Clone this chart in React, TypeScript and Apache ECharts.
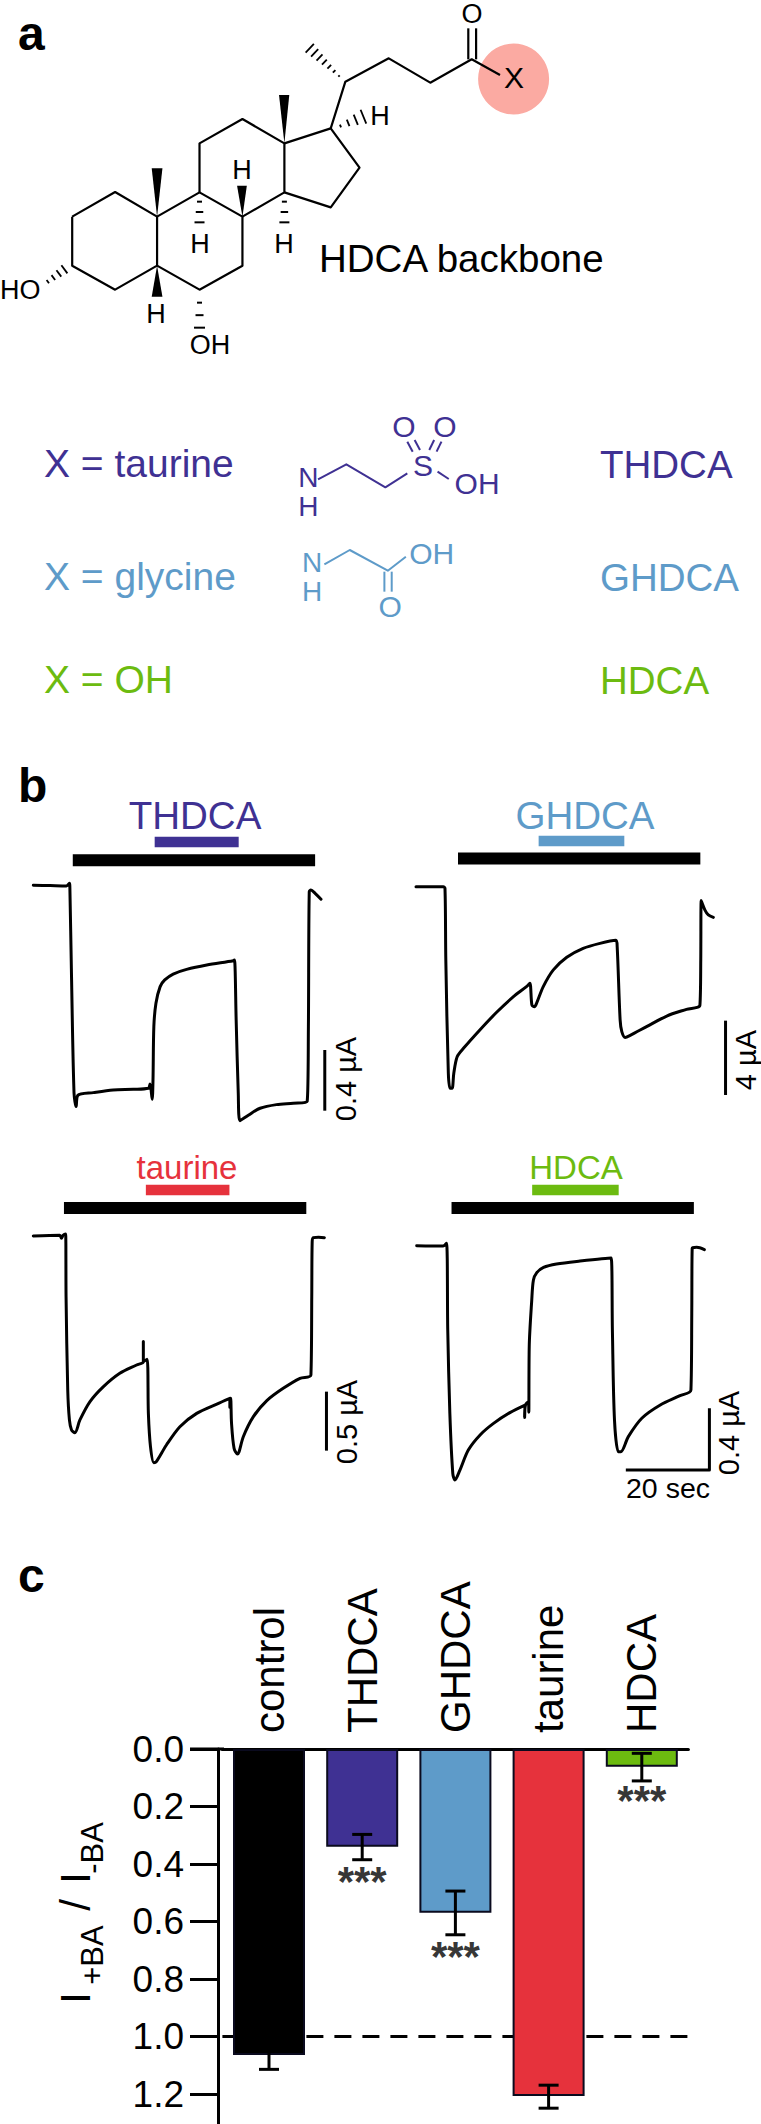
import React, { useEffect, useRef } from "react";
import * as echarts from "echarts";

// ---------- data ----------
const thdcaTrace = [[0,0],[4,-0.002],[7.9,-0.004],[8.6,0.013],[8.7,-0.004],[9.1,-0.602],[9.7,-1.371],[10.2,-1.459],[10.6,-1.385],[14.3,-1.367],[19,-1.349],[23.8,-1.345],[27.4,-1.338],[27.8,-1.31],[28.3,-1.411],[28.5,-1.284],[28.7,-0.932],[29.2,-0.778],[30.2,-0.668],[31.3,-0.624],[33.3,-0.585],[36.5,-0.554],[41.3,-0.525],[47.6,-0.497],[47.9,-0.492],[48.3,-0.888],[48.8,-1.371],[49.2,-1.552],[51.2,-1.516],[54,-1.47],[57.9,-1.446],[61.9,-1.437],[65.2,-1.426],[65.5,-0.932],[65.7,-0.042],[66.1,-0.031],[67.1,-0.053],[68.5,-0.092]];
const ghdcaTrace = [[0,0],[6.5,0],[6.9,-0.09],[7.1,-3.95],[7.7,-10.04],[8.1,-10.85],[8.6,-10.85],[9,-10.04],[9.8,-9.15],[11.3,-8.7],[15.2,-7.71],[19.2,-6.76],[23.2,-5.92],[26.3,-5.38],[27.1,-5.2],[27.6,-6.37],[28.2,-6.46],[28.7,-6.28],[30.3,-5.38],[32.7,-4.48],[35.9,-3.8],[39.8,-3.32],[43.8,-3.05],[47.6,-2.89],[47.9,-3.23],[48.6,-7.17],[49,-7.8],[49.8,-8.11],[51,-8],[54.9,-7.53],[59.7,-6.96],[64.4,-6.6],[67.6,-6.37],[67.8,-3.95],[67.9,-0.75],[68.8,-1.26],[69.6,-1.52],[70.8,-1.65]];
const taurineTrace = [[0,0],[6.3,0.006],[6.7,-0.02],[7.1,0.006],[7.7,0.017],[7.8,-0.514],[8.2,-1.305],[8.6,-1.559],[9.1,-1.644],[9.9,-1.667],[11.1,-1.559],[13.5,-1.404],[16.7,-1.277],[20.6,-1.164],[24.6,-1.093],[26.2,-1.065],[26.2,-0.895],[26.2,-1.065],[27.1,-1.045],[27.4,-1.503],[27.9,-1.785],[28.7,-1.921],[29.3,-1.912],[31.7,-1.771],[34.9,-1.616],[38.9,-1.503],[43.7,-1.424],[46.8,-1.376],[46.8,-1.452],[47,-1.376],[47.2,-1.588],[47.8,-1.799],[48.6,-1.847],[49,-1.828],[50,-1.701],[52.4,-1.531],[55.6,-1.395],[59.5,-1.291],[63.5,-1.206],[66.1,-1.178],[66.3,-0.514],[66.4,-0.048],[66.7,-0.014],[67.9,-0.011],[69.3,-0.014]];
const hdcaTrace = [[0,0],[6.3,-0.002],[7.1,0.015],[7.4,-0.548],[7.9,-1.089],[8.6,-1.478],[9.1,-1.522],[10.3,-1.457],[12.3,-1.327],[15.1,-1.229],[18.3,-1.154],[22.2,-1.084],[25.8,-1.035],[25.7,-1.115],[25.9,-1.035],[26.6,-1.013],[26.7,-1.082],[26.8,-0.656],[27.4,-0.353],[27.8,-0.223],[28.6,-0.175],[30.2,-0.141],[33.3,-0.119],[38.9,-0.1],[46.3,-0.08],[46.6,-0.548],[47.1,-1.132],[48,-1.338],[48.6,-1.338],[50.4,-1.24],[53.6,-1.121],[58,-1.035],[62.7,-0.974],[65.3,-0.937],[65.5,-0.439],[65.6,-0.017],[66.7,-0.011],[68.5,-0.026]];

const thdcaBlackBar = [[9.4,0.165],[67.1,0.165]];
const thdcaDrugBar = [[28.9,0.285],[48.9,0.285]];
const thdcaScale = [[69.4,-1.086],[69.4,-1.486]];
const ghdcaBlackBar = [[10,1.52],[67.7,1.52]];
const ghdcaDrugBar = [[29.2,2.46],[49.6,2.46]];
const ghdcaScale = [[73.7,-7.21],[73.7,-11.21]];
const taurineBlackBar = [[7.3,0.237],[65,0.237]];
const taurineDrugBar = [[26.8,0.39],[46.7,0.39]];
const taurineScale = [[69.8,-1.319],[69.8,-1.819]];
const hdcaBlackBar = [[8.3,0.245],[66,0.245]];
const hdcaDrugBar = [[27.5,0.361],[48.1,0.361]];
const hdcaScale = [[69.7,-1.056],[69.7,-1.457],[49.8,-1.457]];

const categories = ["control", "THDCA", "GHDCA", "taurine", "HDCA"];
const ratios = [1.064, 0.34, 0.569, 1.207, 0.062];
const errLow = [1.014, 0.297, 0.494, 1.169, 0.015];
const errHigh = [1.114, 0.385, 0.646, 1.249, 0.111];
const significance = [[1, 0.446], [2, 0.709], [4, 0.164]];
const tickLabels = [0, 0.2, 0.4, 0.6, 0.8, 1.0, 1.2];

// ---------- styles / layout ----------
const PURPLE = "#3f3193";
const BLUE = "#5e9bc9";
const GREEN = "#6cbb10";
const RED = "#e6323c";
const barColors = ["#000000", PURPLE, BLUE, RED, GREEN];
const FONT = '"Liberation Sans", Arial, sans-serif';
const SX = 4.2; // px per second

const panels = [
  { trace: thdcaTrace, black: thdcaBlackBar, drug: thdcaDrugBar, scale: thdcaScale, color: PURPLE, x0: 33.3, y0: 885.3, sy: 151.67, iMax: 0.4, iMin: -1.7 },
  { trace: ghdcaTrace, black: ghdcaBlackBar, drug: ghdcaDrugBar, scale: ghdcaScale, color: BLUE, x0: 416, y0: 886.67, sy: 18.583, iMax: 3, iMin: -12 },
  { trace: taurineTrace, black: taurineBlackBar, drug: taurineDrugBar, scale: taurineScale, color: RED, x0: 33.3, y0: 1236, sy: 118, iMax: 0.5, iMin: -2.1 },
  { trace: hdcaTrace, black: hdcaBlackBar, drug: hdcaDrugBar, scale: hdcaScale, color: GREEN, x0: 416.67, y0: 1245.67, sy: 154, iMax: 0.5, iMin: -1.7 },
];

// ---------- graphic helpers ----------
const Z = (p: number[]) => [p[0] / 2.05, p[1] / 3];
const Z2 = (p: number[]) => [p[0] / 2.05, p[1] / 3 + 400];
const T = (text: string, x: number, base: number, fs: number, fill = "#000", align = "left", weight = "normal") => ({
  type: "text", x, y: base - 0.36 * fs,
  style: { text, fill, font: `${weight} ${fs}px ${FONT}`, textAlign: align, textVerticalAlign: "middle" },
});
const V = (text: string, x: number, y: number, fs: number) => ({
  type: "text", x, y, rotation: Math.PI / 2,
  style: { text, fill: "#000", font: `${fs}px ${FONT}`, textAlign: "center", textVerticalAlign: "middle" },
});
const PL = (pts: number[][], stroke = "#000", lw = 2.2, conv = Z) => ({
  type: "polyline",
  shape: { points: pts.map(conv) },
  style: { stroke, lineWidth: lw, fill: "none", lineJoin: "round" },
});
const WEDGE = (pts: number[][]) => ({
  type: "polygon", shape: { points: pts.map(Z) }, style: { fill: "#000" },
});
const HASH = (a: number[], b: number[], n: number, w0: number, w1: number, lw = 2.2) => {
  const [ax, ay] = Z(a), [bx, by] = Z(b);
  const dx = bx - ax, dy = by - ay, len = Math.hypot(dx, dy);
  const nx = -dy / len, ny = dx / len;
  const out: any[] = [];
  for (let i = 0; i < n; i++) {
    const f = n === 1 ? 1 : i / (n - 1);
    const x = ax + dx * f, y = ay + dy * f, h = (w0 + (w1 - w0) * f) / 2;
    out.push({ type: "line", shape: { x1: x - nx * h, y1: y - ny * h, x2: x + nx * h, y2: y + ny * h }, style: { stroke: "#000", lineWidth: lw } });
  }
  return out;
};

function structureGraphics() {
  const g: any[] = [];
  g.push({ type: "circle", shape: { cx: 513.6, cy: 79, r: 35.5 }, style: { fill: "#fbaaa2" } });
  g.push(PL([[148,650],[236,576],[322,650],[322,797],[236,869],[148,797],[148,650]]));
  g.push(PL([[322,650],[409,577],[497,650],[497,797],[409,869],[322,797]]));
  g.push(PL([[409,577],[409,430],[497,357],[583,430],[583,577],[497,650]]));
  g.push(PL([[583,430],[678,385],[737,503],[678,622],[583,577]]));
  g.push(PL([[678,385],[708,245],[797,175],[882,248],[967,178],[1025,225]]));
  g.push(PL([[960,178],[960,85]]), PL([[976,178],[976,85]]));
  g.push(WEDGE([[322,650],[311,505],[333,505]]));
  g.push(WEDGE([[583,430],[572,285],[593,285]]));
  g.push(WEDGE([[497,650],[486,557],[506,557]]));
  g.push(WEDGE([[322,797],[311,890],[333,890]]));
  g.push(...HASH([695,228],[635,145],7,2,12,1.8));
  g.push(...HASH([698,378],[745,350],4,3,15,1.8));
  g.push(...HASH([409,605],[409,667],3,5,10,2));
  g.push(...HASH([583,605],[583,667],3,5,10,2));
  g.push(...HASH([132,808],[98,845],4,10,4,1.8));
  g.push(...HASH([409,908],[409,983],3,5,11,2));
  g.push(T("O", 472, 23.5, 27, "#000", "center"));
  g.push(T("X", 514, 88, 30, "#000", "center"));
  g.push(T("H", 380, 126, 27, "#000", "center"));
  g.push(T("H", 242, 180, 27, "#000", "center"));
  g.push(T("H", 200, 254, 27, "#000", "center"));
  g.push(T("H", 284, 254, 27, "#000", "center"));
  g.push(T("H", 156, 324, 27, "#000", "center"));
  g.push(T("HO", 0, 300, 27));
  g.push(T("OH", 210, 355, 27, "#000", "center"));
  g.push(T("HDCA backbone", 319, 272, 38.5));

  // taurine / glycine chains
  g.push(T("X = taurine", 44, 478, 39, PURPLE));
  g.push(T("THDCA", 600, 478, 38.5, PURPLE));
  g.push(T("X = glycine", 44, 591, 39, BLUE));
  g.push(T("GHDCA", 600, 591, 38.5, BLUE));
  g.push(T("X = OH", 44, 694, 39, GREEN));
  g.push(T("HDCA", 600, 694, 38.5, GREEN));

  const C = (t: string, zx: number, zy: number, fs: number, fill: string) => T(t, zx / 2.05, zy / 3 + 400 + 0.36 * fs, fs, fill, "center");
  g.push(PL([[652,238],[710,193],[790,262],[835,220]], PURPLE, 2, Z2));
  g.push(PL([[897,215],[920,237]], PURPLE, 2, Z2));
  g.push(PL([[835,125],[846,155]], PURPLE, 2, Z2), PL([[850,120],[861,150]], PURPLE, 2, Z2));
  g.push(PL([[880,150],[890,120]], PURPLE, 2, Z2), PL([[895,155],[905,125]], PURPLE, 2, Z2));
  g.push(C("N", 632, 233, 28, PURPLE), C("H", 632, 318, 28, PURPLE), C("S", 867, 197, 30, PURPLE));
  g.push(C("O", 828, 80, 30, PURPLE), C("O", 912, 80, 30, PURPLE), C("OH", 978, 250, 30, PURPLE));
  g.push(PL([[665,493],[717,450],[795,512],[832,470]], BLUE, 2, Z2));
  g.push(PL([[788,515],[788,575]], BLUE, 2, Z2), PL([[803,515],[803,575]], BLUE, 2, Z2));
  g.push(C("N", 640, 488, 28, BLUE), C("H", 640, 575, 28, BLUE), C("O", 800, 620, 30, BLUE), C("OH", 885, 460, 30, BLUE));

  // panel letters
  g.push(T("a", 18, 51, 48, "#000", "left", "bold"));
  g.push(T("b", 18, 803, 48, "#000", "left", "bold"));
  g.push(T("c", 18, 1593, 48, "#000", "left", "bold"));

  // panel b labels
  g.push(T("THDCA", 195, 829, 38.5, PURPLE, "center"));
  g.push(T("GHDCA", 585, 829, 38.5, BLUE, "center"));
  g.push(T("taurine", 187, 1179, 33, RED, "center"));
  g.push(T("HDCA", 576, 1179, 33, GREEN, "center"));
  g.push(V("0.4 µA", 346, 1079, 29));
  g.push(V("4 µA", 746, 1060, 29));
  g.push(V("0.5 µA", 347, 1422, 29));
  g.push(V("0.4 µA", 729, 1433, 29));
  g.push(T("20 sec", 668, 1498, 28.5, "#000", "center"));

  // panel c axis title + stub of the zero line
  g.push(V("I", 75, 1998, 42));
  g.push(V("+BA", 92, 1955, 31));
  g.push(V("/", 75, 1905, 42));
  g.push(V("I", 75, 1878, 42));
  g.push(V("-BA", 92, 1848, 31));
  g.push({ type: "line", shape: { x1: 190, y1: 1749, x2: 224, y2: 1749 }, style: { stroke: "#000", lineWidth: 3 } });
  return g;
}

// ---------- option ----------
function buildOption() {
  const grids: any[] = [{ left: 222.4, top: 1749, width: 466, height: 375 }];
  const xAxes: any[] = [{
    type: "category", gridIndex: 0, data: categories, position: "top",
    axisLine: { show: true, lineStyle: { color: "#000", width: 3 } },
    axisTick: { show: false },
    axisLabel: { rotate: 90, margin: 16, color: "#000", fontSize: 42, fontFamily: FONT, interval: 0 },
  }];
  const yAxes: any[] = [{
    type: "value", gridIndex: 0, inverse: true, min: 0, max: 1.304, offset: 4.4,
    splitLine: { show: false },
    axisLine: { show: true, lineStyle: { color: "#000", width: 3 } },
    axisTick: { show: true, length: 28, lineStyle: { color: "#000", width: 3 }, customValues: tickLabels },
    axisLabel: { customValues: tickLabels, margin: 34, color: "#000", fontSize: 37, fontFamily: FONT, formatter: (v: number) => v.toFixed(1) },
  }];
  const series: any[] = [
    {
      type: "bar", xAxisIndex: 0, yAxisIndex: 0, z: 3, barWidth: 72,
      data: ratios.map((v, i) => ({ value: v, itemStyle: { color: barColors[i], borderColor: "#0a0a1e", borderWidth: 2 } })),
    },
    {
      type: "line", xAxisIndex: 0, yAxisIndex: 0, data: [], z: 1,
      markLine: {
        silent: true, symbol: "none", z: 1, animation: false, label: { show: false },
        lineStyle: { color: "#000", width: 3, type: [17, 11] },
        data: [{ yAxis: 1 }],
      },
    },
    {
      type: "custom", xAxisIndex: 0, yAxisIndex: 0, z: 4, clip: false,
      data: categories.map((_, i) => [i, errLow[i], errHigh[i]]),
      encode: { x: 0, y: [1, 2] },
      renderItem: (_p: any, api: any) => {
        const a = api.coord([api.value(0), api.value(1)]);
        const b = api.coord([api.value(0), api.value(2)]);
        const st = { stroke: "#000", lineWidth: 3, fill: "none" };
        const mk = (x1: number, y1: number, x2: number, y2: number) => ({ type: "line", shape: { x1, y1, x2, y2 }, style: st });
        return {
          type: "group",
          children: [mk(a[0], a[1], b[0], b[1]), mk(a[0] - 10, a[1], a[0] + 10, a[1]), mk(b[0] - 10, b[1], b[0] + 10, b[1])],
        };
      },
    },
    {
      type: "scatter", xAxisIndex: 0, yAxisIndex: 0, z: 5, symbolSize: 0, data: significance,
      label: { show: true, position: "inside", formatter: "***", color: "#000", fontSize: 42, fontWeight: "bold", fontFamily: FONT, offset: [0, 4] },
    },
  ];

  panels.forEach((p, i) => {
    const gi = i + 1;
    grids.push({ left: p.x0, width: 80 * SX, top: p.y0 - p.iMax * p.sy, height: (p.iMax - p.iMin) * p.sy });
    xAxes.push({ type: "value", gridIndex: gi, min: 0, max: 80, show: false });
    yAxes.push({ type: "value", gridIndex: gi, min: p.iMin, max: p.iMax, show: false });
    const line = (data: number[][], color: string, width: number, cap = "butt", smooth: any = false) => ({
      type: "line", xAxisIndex: gi, yAxisIndex: gi, data, symbol: "none", showSymbol: false, clip: false, smooth,
      lineStyle: { color, width, cap, join: "round" },
    });
    series.push(line(p.trace, "#000", 3, "round", 0.3));
    series.push(line(p.black, "#000", 12));
    series.push(line(p.drug, p.color, 10.5));
    series.push(line(p.scale, "#000", 3));
  });

  return { animation: false, backgroundColor: "#fff", grid: grids, xAxis: xAxes, yAxis: yAxes, series, graphic: structureGraphics(), tooltip: { show: false } };
}

export default function App() {
  const ref = useRef<HTMLDivElement>(null);
  useEffect(() => {
    document.body.style.margin = "0";
    const chart = echarts.init(ref.current!, undefined, { renderer: "svg" });
    chart.setOption(buildOption() as any);
    return () => chart.dispose();
  }, []);
  return <div ref={ref} style={{ width: 761, height: 2124 }} />;
}
